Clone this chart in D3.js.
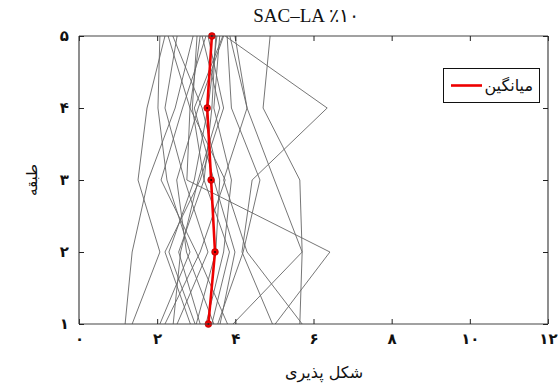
<!DOCTYPE html>
<html>
<head>
<meta charset="utf-8">
<script src="https://cdn.jsdelivr.net/npm/d3@7"></script>
<style>
  body { margin: 0; background: #fff; }
  svg { display: block; }
</style>
</head>
<body>
<svg id="chart" width="558" height="383"></svg>
<script>
// Stories (floors) on the vertical axis
const stories = [1, 2, 3, 4, 5];

// Ductility per record, story 1..5
const records = [
  [1.18, 1.36, 1.77, 2.46, 2.92],
  [1.36, 2.07, 1.51, 1.74, 2.20],
  [2.07, 2.84, 2.25, 2.02, 2.07],
  [2.20, 3.10, 3.74, 2.84, 2.28],
  [2.41, 2.60, 3.05, 3.60, 3.15],
  [2.51, 3.30, 2.70, 2.20, 2.51],
  [2.97, 2.30, 2.95, 3.30, 3.53],
  [3.10, 2.55, 3.20, 2.90, 3.02],
  [3.25, 3.70, 3.90, 3.45, 3.60],
  [3.45, 2.75, 2.50, 3.05, 3.70],
  [3.61, 3.99, 3.45, 2.95, 3.68],
  [3.55, 4.20, 4.63, 3.90, 3.79],
  [3.94, 5.71, 5.00, 4.30, 3.86],
  [5.02, 6.42, 2.76, 2.84, 3.10],
  [4.95, 4.17, 4.43, 6.35, 3.74],
  [5.65, 5.71, 5.65, 4.71, 4.89],
  [5.71, 4.30, 3.70, 4.30, 3.99],
  [3.80, 3.00, 2.10, 2.65, 3.25],
  [3.00, 3.50, 3.60, 3.15, 2.40],
  [2.85, 2.20, 3.10, 3.70, 3.30],
  [3.40, 3.85, 3.20, 3.40, 3.50]
];

// Mean ductility per story
const meanValues = [3.31, 3.48, 3.38, 3.28, 3.40];

const xTicks = [0, 2, 4, 6, 8, 10, 12];
const yTicks = [1, 2, 3, 4, 5];

const titleText = "SAC\u2013LA \u066A\u06F1\u06F0";
const xLabel = "شکل پذیری";
const yLabel = "طبقه";
const legendLabel = "میانگین";

const toPersian = n => String(n).replace(/\d/g, d => "۰۱۲۳۴۵۶۷۸۹"[+d]);

const svg = d3.select("#chart");
const m = { left: 79, right: 548, top: 36, bottom: 324 };

const x = d3.scaleLinear().domain([0, 12]).range([m.left, m.right]);
const y = d3.scaleLinear().domain([1, 5]).range([m.bottom, m.top]);

const plot = svg.append("g");

plot.append("defs").append("clipPath").attr("id", "clip")
  .append("rect").attr("x", m.left).attr("y", m.top)
  .attr("width", m.right - m.left).attr("height", m.bottom - m.top);

const line = d3.line()
  .x(d => x(d[0]))
  .y(d => y(d[1]));

// individual record profiles
plot.append("g").attr("clip-path", "url(#clip)")
  .selectAll("path").data(records).join("path")
  .attr("d", r => line(r.map((v, i) => [v, stories[i]])))
  .attr("fill", "none")
  .attr("stroke", "#666")
  .attr("stroke-width", 0.9);

// mean profile
const meanPts = meanValues.map((v, i) => [v, stories[i]]);
plot.append("path")
  .attr("d", line(meanPts))
  .attr("fill", "none")
  .attr("stroke", "#ee0000")
  .attr("stroke-width", 2.6);
plot.append("g").selectAll("circle").data(meanPts).join("circle")
  .attr("cx", d => x(d[0])).attr("cy", d => y(d[1]))
  .attr("r", 3.4).attr("fill", "#ee0000").attr("stroke", "#b00000").attr("stroke-width", 0.6);
plot.append("g").selectAll("circle").data(meanPts).join("circle")
  .attr("cx", d => x(d[0])).attr("cy", d => y(d[1]))
  .attr("r", 1).attr("fill", "#200000");

// frame with inward ticks on all four sides
const axisColor = "#444";
const bottomAxis = d3.axisBottom(x).tickValues(xTicks).tickSize(-5).tickPadding(9).tickFormat(toPersian);
const topAxis = d3.axisTop(x).tickValues(xTicks).tickSize(-5).tickFormat("");
const leftAxis = d3.axisLeft(y).tickValues(yTicks).tickSize(-5).tickPadding(10).tickFormat(toPersian);
const rightAxis = d3.axisRight(y).tickValues(yTicks).tickSize(-5).tickFormat("");

function style(g) {
  g.select(".domain").attr("stroke", axisColor).attr("stroke-width", 1.2);
  g.selectAll(".tick line").attr("stroke", "#222").attr("stroke-width", 1);
  g.selectAll(".tick text").attr("fill", "#111")
    .style("font-family", "'DejaVu Sans', sans-serif")
    .style("font-size", "15px").style("font-weight", "bold");
}

svg.append("g").attr("transform", `translate(0,${m.bottom})`).call(bottomAxis).call(style)
  .call(g => g.select(".domain").attr("d", `M${m.left},0H${m.right}`));
svg.append("g").attr("transform", `translate(0,${m.top})`).call(topAxis).call(style)
  .call(g => g.select(".domain").attr("d", `M${m.left},0H${m.right}`));
svg.append("g").attr("transform", `translate(${m.left},0)`).call(leftAxis).call(style)
  .call(g => g.select(".domain").attr("d", `M0,${m.top}V${m.bottom}`));
svg.append("g").attr("transform", `translate(${m.right},0)`).call(rightAxis).call(style)
  .call(g => g.select(".domain").attr("d", `M0,${m.top}V${m.bottom}`));

// title
svg.append("text")
  .attr("x", 306).attr("y", 22)
  .attr("text-anchor", "middle")
  .attr("direction", "ltr")
  .style("font-family", "'Liberation Serif', 'DejaVu Serif', serif")
  .style("font-size", "19px")
  .attr("fill", "#111")
  .text(titleText);

// axis titles
svg.append("text")
  .attr("x", 324).attr("y", 378)
  .attr("text-anchor", "middle")
  .style("font-family", "'DejaVu Sans', sans-serif")
  .style("font-size", "16px")
  .attr("fill", "#111")
  .text(xLabel);

svg.append("text")
  .attr("transform", `translate(37,${(m.top + m.bottom) / 2}) rotate(-90)`)
  .attr("text-anchor", "middle")
  .style("font-family", "'DejaVu Sans', sans-serif")
  .style("font-size", "15px")
  .attr("fill", "#111")
  .text(yLabel);

// legend
const lg = svg.append("g");
lg.append("rect")
  .attr("x", 443.5).attr("y", 68.5).attr("width", 96).attr("height", 34)
  .attr("fill", "#fff").attr("stroke", "#111").attr("stroke-width", 1);
lg.append("line")
  .attr("x1", 451).attr("x2", 482).attr("y1", 85.5).attr("y2", 85.5)
  .attr("stroke", "#ee0000").attr("stroke-width", 2.6);
lg.append("text")
  .attr("x", 533).attr("y", 91)
  .attr("text-anchor", "end")
  .style("font-family", "'DejaVu Sans', sans-serif")
  .style("font-size", "16px")
  .attr("fill", "#111")
  .text(legendLabel);
</script>
</body>
</html>
